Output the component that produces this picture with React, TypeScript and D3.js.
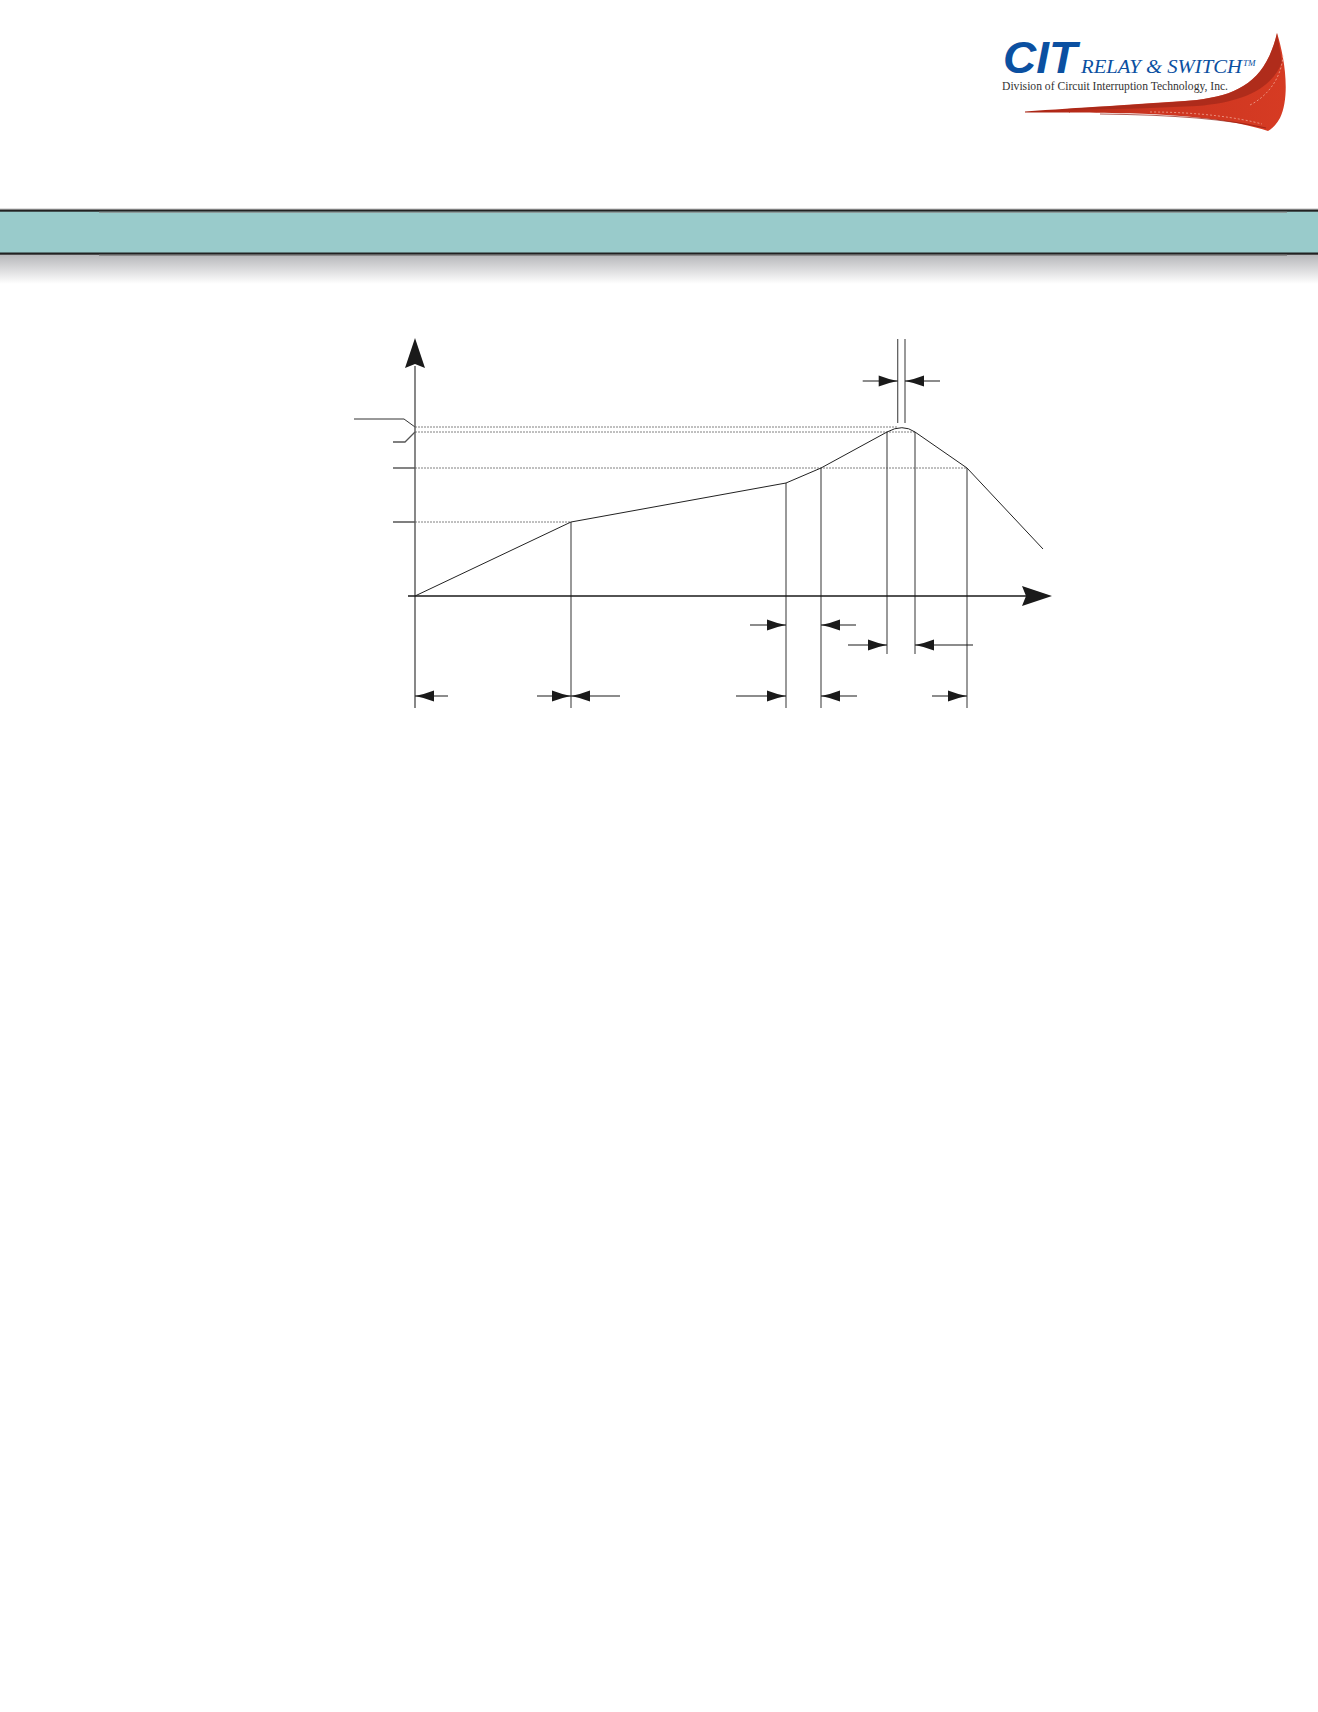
import React from "react";
import * as d3 from "d3";

// Reflow profile (schematic units: time along x, temperature along y)
const profileTime = [0, 156, 371, 406, 472, 500, 552, 628];
const profileTemp = [0, 74, 113, 128, 164, 164, 128, 47];
const peakTime = 487.7;
const peakTemp = 172.6; // control point of the rounded peak

// Reference temperature levels (dashed) and their extents
const levelTemps = [169, 164, 128, 74];
const levelEnds = [482, 500, 552, 156];

// Vertical markers: time, top temp, bottom (negative = below axis)
const markerTimes = [156, 371, 406, 472, 500, 552];
const markerTops = [74, 113, 128, 164, 164, 128];
const markerBottoms = [-112, -112, -112, -58, -58, -112];

// Dimension intervals [start, end, level below axis (temp units), inside?]
const dimStarts = [0, 156, 406, 371, 472];
const dimEnds = [156, 371, 552, 406, 500];
const dimLevels = [-100, -100, -100, -29, -49];
const dimInside = [true, true, true, false, false];
const dimTails = [[33, 34], [49, 50], [36, 35], [36, 35], [39, 58]];

// Peak-time window (top)
const peakWin = [482.7, 490];

const W = 1318;
const H = 1712;

export default function App() {
  const x = d3.scaleLinear().domain([0, 637]).range([415, 1052]);
  const y = d3.scaleLinear().domain([0, 258]).range([596, 338]);

  const p = d3.path();
  p.moveTo(x(profileTime[0]), y(profileTemp[0]));
  for (let i = 1; i <= 4; i++) p.lineTo(x(profileTime[i]), y(profileTemp[i]));
  p.quadraticCurveTo(x(peakTime), y(peakTemp), x(profileTime[5]), y(profileTemp[5]));
  for (let i = 6; i < profileTime.length; i++) p.lineTo(x(profileTime[i]), y(profileTemp[i]));

  const head = (tipX: number, yy: number, dir: number, key: string) => {
    const L = 19, h = 5.5;
    const bx = tipX - dir * L;
    const mx = tipX - dir * L * 0.5;
    return (
      <path key={key}
        d={`M${tipX},${yy} Q${mx},${yy - 1.8} ${bx},${yy - h} L${bx},${yy + h} Q${mx},${yy + 1.8} ${tipX},${yy} Z`}
        fill="#1a1a1a" />
    );
  };

  const arrow = (tipX: number, yy: number, dir: number, tail: number, key: string) => (
    <g key={key}>
      <line x1={tipX - dir * tail} x2={tipX} y1={yy} y2={yy} stroke="#1a1a1a" strokeWidth={1.2} />
      {head(tipX, yy, dir, key + "h")}
    </g>
  );

  const dims: any[] = [];
  dimStarts.forEach((s, i) => {
    const yy = y(dimLevels[i]);
    const xs = x(s), xe = x(dimEnds[i]);
    const [t0, t1] = dimTails[i];
    if (dimInside[i]) {
      dims.push(arrow(xs, yy, -1, t0, `d${i}a`));
      dims.push(arrow(xe, yy, 1, t1, `d${i}b`));
    } else {
      dims.push(arrow(xs, yy, 1, t0, `d${i}a`));
      dims.push(arrow(xe, yy, -1, t1, `d${i}b`));
    }
  });

  const swoosh =
    "M1025,111.5 C1080,107.5 1130,105 1197,100 C1240,95 1266,80 1277,33 " +
    "C1284,55 1291,95 1280,118 C1276,125 1272,129 1268,131 " +
    "C1240,122 1200,115.5 1130,113.3 C1080,112.5 1050,112.5 1025,112.5 Z";
  const swooshTop =
    "M1060,109.5 C1110,106 1150,104 1197,100 C1240,95 1266,80 1277,33 " +
    "C1279,45 1281,55 1282,62 C1272,88 1245,102 1197,106 C1150,108.5 1100,109.5 1060,109.5 Z";

  return (
    <svg width={W} height={H} style={{ position: "absolute", left: 0, top: 0, background: "#fff" }}
      xmlns="http://www.w3.org/2000/svg">
      <defs>
        <linearGradient id="shadow" x1="0" y1="0" x2="0" y2="1">
          <stop offset="0" stopColor="#b4b5b8" />
          <stop offset="1" stopColor="#ffffff" />
        </linearGradient>
        <linearGradient id="red" x1="0" y1="0" x2="1" y2="0">
          <stop offset="0" stopColor="#a82414" />
          <stop offset="0.5" stopColor="#cc3520" />
          <stop offset="1" stopColor="#d63b23" />
        </linearGradient>
      </defs>

      {/* Logo */}
      <path d={swoosh} fill="url(#red)" />
      <path d={swooshTop} fill="#a3281a" opacity={0.75} />
      <path d="M1100,114 C1190,115 1240,122 1266,128" fill="none" stroke="#8e1e12" strokeWidth={1.2} opacity={0.7} />
      <path d="M1150,112 C1200,112 1240,118 1262,124 M1250,105 C1270,95 1282,75 1283,55" fill="none"
        stroke="#f2b5a5" strokeWidth={0.7} strokeDasharray="2,2" />
      <text x={1003} y={73} fontFamily="Liberation Sans, Arial, sans-serif" fontWeight={900} fontStyle="italic"
        fontSize={45} fill="#0b50a1" textLength={74} lengthAdjust="spacingAndGlyphs">CIT</text>
      <text x={1081} y={73} fontFamily="Liberation Serif, Times New Roman, serif" fontStyle="italic"
        fontSize={19} fill="#0b50a1" textLength={161} lengthAdjust="spacingAndGlyphs">RELAY &amp; SWITCH</text>
      <text x={1243} y={66} fontFamily="Liberation Serif, Times New Roman, serif" fontStyle="italic"
        fontSize={9} fill="#0b50a1">TM</text>
      <text x={1002} y={90} fontFamily="Liberation Serif, Times New Roman, serif"
        fontSize={11.5} fill="#333" textLength={226} lengthAdjust="spacingAndGlyphs">Division of Circuit Interruption Technology, Inc.</text>

      {/* Header band */}
      <rect x={0} y={254} width={W} height={30} fill="url(#shadow)" />
      <rect x={0} y={208.5} width={W} height={1} fill="#bdbdbd" />
      <rect x={0} y={211} width={W} height={42} fill="#99cbcb" />
      <rect x={0} y={209.5} width={W} height={2.2} fill="#222" />
      <rect x={0} y={252.5} width={W} height={2.2} fill="#222" />
      <rect x={99} y={211.7} width={1188} height={1} fill="#888" />
      <rect x={99} y={254.7} width={1188} height={1.3} fill="#8a8a8a" />

      {/* Dashed reference levels */}
      {levelTemps.map((t, i) => (
        <line key={"lv" + i} x1={x(0)} x2={x(levelEnds[i])} y1={y(t)} y2={y(t)}
          stroke="#808080" strokeWidth={1} strokeDasharray="2,1" />
      ))}
      {/* Left ticks and leaders */}
      <line x1={x(0) - 22} x2={x(0)} y1={y(levelTemps[2])} y2={y(levelTemps[2])} stroke="#333" strokeWidth={1.2} />
      <line x1={x(0) - 22} x2={x(0)} y1={y(levelTemps[3])} y2={y(levelTemps[3])} stroke="#555" strokeWidth={1.5} />
      <polyline points={`${x(0) - 61},${y(levelTemps[0]) - 8} ${x(0) - 11},${y(levelTemps[0]) - 8} ${x(0)},${y(levelTemps[0])}`}
        fill="none" stroke="#333" strokeWidth={1} />
      <polyline points={`${x(0) - 22},${y(levelTemps[1]) + 10} ${x(0) - 10},${y(levelTemps[1]) + 10} ${x(0)},${y(levelTemps[1])}`}
        fill="none" stroke="#555" strokeWidth={1.3} />

      {/* Vertical markers */}
      {markerTimes.map((t, i) => (
        <line key={"mk" + i} x1={x(t)} x2={x(t)} y1={y(markerTops[i])} y2={y(markerBottoms[i])}
          stroke="#555" strokeWidth={1.2} />
      ))}
      {peakWin.map((t, i) => (
        <line key={"pw" + i} x1={x(t)} x2={x(t)} y1={339} y2={y(levelTemps[0]) - 4}
          stroke="#555" strokeWidth={1.2} />
      ))}

      {/* Axes */}
      <line x1={x(0)} x2={x(0)} y1={366} y2={y(-112)} stroke="#555" strokeWidth={1.4} />
      <path d={`M${x(0)},338 L${x(0) + 10},368 L${x(0)},364 L${x(0) - 10},368 Z`} fill="#1a1a1a" />
      <line x1={408} x2={1026} y1={y(0)} y2={y(0)} stroke="#1a1a1a" strokeWidth={1.3} />
      <path d={`M1052,${y(0)} L1022,${y(0) - 10} L1026,${y(0)} L1022,${y(0) + 10} Z`} fill="#1a1a1a" />

      {/* Profile */}
      <path d={p.toString()} fill="none" stroke="#222" strokeWidth={1} />

      {/* Dimension arrows */}
      {dims}
      {arrow(x(peakWin[0]), 381, 1, 35, "pwa")}
      {arrow(x(peakWin[1]), 381, -1, 35, "pwb")}
    </svg>
  );
}
